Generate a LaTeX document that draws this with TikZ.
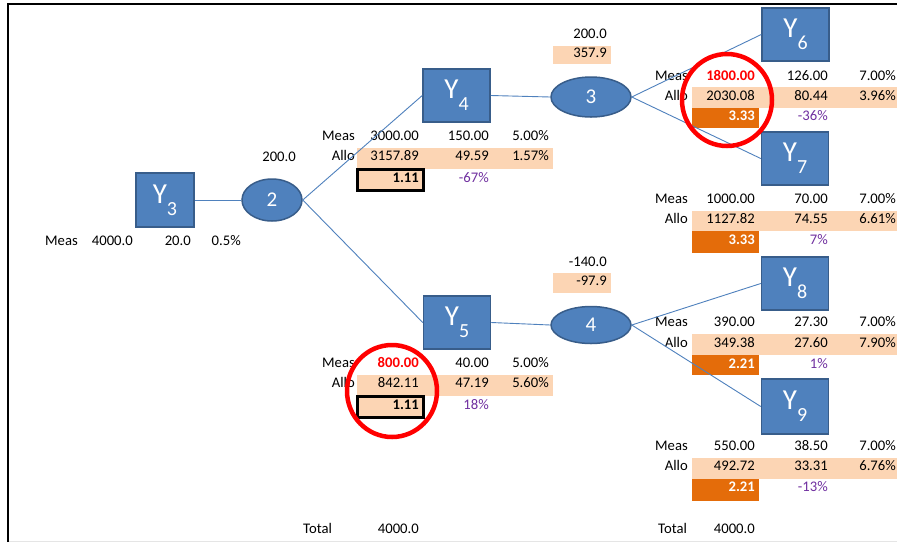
\documentclass[tikz,border=0pt]{standalone}
\usepackage{fontspec}
\setmainfont{Carlito}
\usetikzlibrary{shapes.geometric}
\definecolor{boxblue}{HTML}{4F81BD}
\definecolor{boxedge}{HTML}{385D8A}
\definecolor{peach}{HTML}{FCD5B4}
\definecolor{orng}{HTML}{E46C0A}
\definecolor{purp}{HTML}{7030A0}
\newcommand\cellfont{\fontsize{14.67}{16}\selectfont}
\newcommand\ylab[1]{\fontsize{29}{30}\selectfont Y\raisebox{-12pt}{\fontsize{20}{21}\selectfont #1}}
\begin{document}
\begin{tikzpicture}[x=1pt,y=-1pt,
  ybox/.style={draw=boxedge, line width=1.5pt, fill=boxblue, text=white, minimum width=67pt, minimum height=53pt, inner sep=0pt},
  yell/.style={ellipse, draw=boxedge, line width=1.5pt, fill=boxblue, text=white, font=\fontsize{21}{22}\selectfont, inner sep=0pt},
  conn/.style={draw=boxblue, line width=0.9pt},
  cell/.style={font=\cellfont, inner sep=0pt, anchor=mid east},
  lcell/.style={font=\cellfont, inner sep=0pt, anchor=mid west},
  redv/.style={cell, text=red, font=\cellfont\bfseries},
  pct/.style={cell, text=purp},
  wv/.style={cell, text=white, font=\cellfont\bfseries},
  bv/.style={cell, font=\cellfont\bfseries},
  ring/.style={draw=red, line width=4.5pt}
]
\clip (0,0) rectangle (897,542);
\fill[white] (0,0) rectangle (897,542);
% frame
\draw[black!10, line width=1pt] (8,541) -- (897,541);
\draw[line width=2pt] (8,542) -- (8,4) -- (897,4);

% background cells
\fill[peach] (553,46) rectangle (611,64);
\fill[peach] (553,273) rectangle (611,293);
\fill[peach] (357,148) rectangle (553,169);
\fill[peach] (357,375) rectangle (553,396);
\fill[peach] (692,87) rectangle (897,108);
\fill[orng] (692,108) rectangle (759,128);
\fill[peach] (692,211) rectangle (897,231);
\fill[orng] (692,231) rectangle (759,253);
\fill[peach] (692,334) rectangle (897,355);
\fill[orng] (692,355) rectangle (759,375);
\fill[peach] (692,458) rectangle (897,479);
\fill[orng] (692,479) rectangle (759,501);
\draw[fill=peach, line width=2.2pt] (357.5,169.5) rectangle (423.5,190.5);
\draw[fill=peach, line width=2.2pt] (357.5,396.5) rectangle (423.5,417.5);

% shapes
\node[ybox, minimum width=58pt, minimum height=54pt] (y3) at (165,200) {\ylab{3}};
\node[ybox] (y4) at (456.5,95.5) {\ylab{4}};
\node[ybox] (y5) at (457,322.5) {\ylab{5}};
\node[ybox] (y6) at (795.5,34.5) {\ylab{6}};
\node[ybox] (y7) at (795,158.5) {\ylab{7}};
\node[ybox] (y8) at (795,283.5) {\ylab{8}};
\node[ybox, minimum height=55pt] (y9) at (795,406.5) {\ylab{9}};
\node[yell, minimum width=60pt, minimum height=42pt] (e2) at (272,200) {2};
\node[yell, minimum width=80pt, minimum height=40pt] (e3) at (591,97) {3};
\node[yell, minimum width=80pt, minimum height=37pt] (e4) at (591,325) {4};

% texts: Y3
\node[cell] (t3a) at (78,243) {Meas};
\node[cell] (t3b) at (133,243) {4000.0};
\node[cell] (t3c) at (191,243) {20.0};
\node[cell] (t3d) at (241,243) {0.5\%};
\node[cell] (n2) at (296,159) {200.0};
\node[cell] (n3a) at (607,36) {200.0};
\node[cell] (n3b) at (607,55) {357.9};
\node[cell] (n4a) at (607,264) {-140.0};
\node[cell] (n4b) at (607,283) {-97.9};

% Y4 table
\node[cell] (a1) at (355,138) {Meas};
\node[cell] (a2) at (419,138) {3000.00};
\node[cell] (a3) at (489,138) {150.00};
\node[cell] (a4) at (549,138) {5.00\%};
\node[cell] (a5) at (355,158.5) {Allo};
\node[cell] (a6) at (419,158.5) {3157.89};
\node[cell] (a7) at (489,158.5) {49.59};
\node[cell] (a8) at (549,158.5) {1.57\%};
\node[bv] (a9) at (419,180) {1.11};
\node[pct] (a10) at (489,180) {-67\%};

% Y5 table
\node[cell] (b1) at (355,365) {Meas};
\node[redv] (b2) at (419,365) {800.00};
\node[cell] (b3) at (489,365) {40.00};
\node[cell] (b4) at (549,365) {5.00\%};
\node[cell] (b5) at (355,385.5) {Allo};
\node[cell] (b6) at (419,385.5) {842.11};
\node[cell] (b7) at (489,385.5) {47.19};
\node[cell] (b8) at (549,385.5) {5.60\%};
\node[bv] (b9) at (419,407) {1.11};
\node[pct] (b10) at (489,407) {18\%};

% Y6 table
\node[cell] (c1) at (688,78) {Meas};
\node[redv] (c2) at (755,78) {1800.00};
\node[cell] (c3) at (828,78) {126.00};
\node[cell] (c4) at (896,78) {7.00\%};
\node[cell] (c5) at (688,98) {Allo};
\node[cell] (c6) at (755,98) {2030.08};
\node[cell] (c7) at (828,98) {80.44};
\node[cell] (c8) at (896,98) {3.96\%};
\node[wv] (c9) at (755,118) {3.33};
\node[pct] (c10) at (828,118) {-36\%};

% Y7 table
\node[cell] (d1) at (688,201) {Meas};
\node[cell] (d2) at (755,201) {1000.00};
\node[cell] (d3) at (828,201) {70.00};
\node[cell] (d4) at (896,201) {7.00\%};
\node[cell] (d5) at (688,221) {Allo};
\node[cell] (d6) at (755,221) {1127.82};
\node[cell] (d7) at (828,221) {74.55};
\node[cell] (d8) at (896,221) {6.61\%};
\node[wv] (d9) at (755,242) {3.33};
\node[pct] (d10) at (828,242) {7\%};

% Y8 table
\node[cell] (f1) at (688,324) {Meas};
\node[cell] (f2) at (755,324) {390.00};
\node[cell] (f3) at (828,324) {27.30};
\node[cell] (f4) at (896,324) {7.00\%};
\node[cell] (f5) at (688,345) {Allo};
\node[cell] (f6) at (755,345) {349.38};
\node[cell] (f7) at (828,345) {27.60};
\node[cell] (f8) at (896,345) {7.90\%};
\node[wv] (f9) at (755,366) {2.21};
\node[pct] (f10) at (828,366) {1\%};

% Y9 table
\node[cell] (g1) at (688,448) {Meas};
\node[cell] (g2) at (755,448) {550.00};
\node[cell] (g3) at (828,448) {38.50};
\node[cell] (g4) at (896,448) {7.00\%};
\node[cell] (g5) at (688,468) {Allo};
\node[cell] (g6) at (755,468) {492.72};
\node[cell] (g7) at (828,468) {33.31};
\node[cell] (g8) at (896,468) {6.76\%};
\node[wv] (g9) at (755,489) {2.21};
\node[pct] (g10) at (828,489) {-13\%};

% totals
\node[lcell] (tt1) at (303,531) {Total};
\node[cell] (tt2) at (419,531) {4000.0};
\node[lcell] (tt3) at (658,531) {Total};
\node[cell] (tt4) at (755,531) {4000.0};

% connectors
\draw[conn] (y3.east) -- (e2.west);
\draw[conn] (e2.east) -- (y4.west);
\draw[conn] (e2.east) -- (y5.west);
\draw[conn] (y4.east) -- (e3.west);
\draw[conn] (y5.east) -- (e4.west);
\draw[conn] (e3.east) -- (y6.west);
\draw[conn] (e3.east) -- (y7.west);
\draw[conn] (e4.east) -- (y8.west);
\draw[conn] (e4.east) -- (y9.west);

% red rings
\draw[ring] (392,391) ellipse [x radius=45, y radius=46];
\draw[ring] (727,100) ellipse [x radius=45, y radius=46];
\end{tikzpicture}
\end{document}
